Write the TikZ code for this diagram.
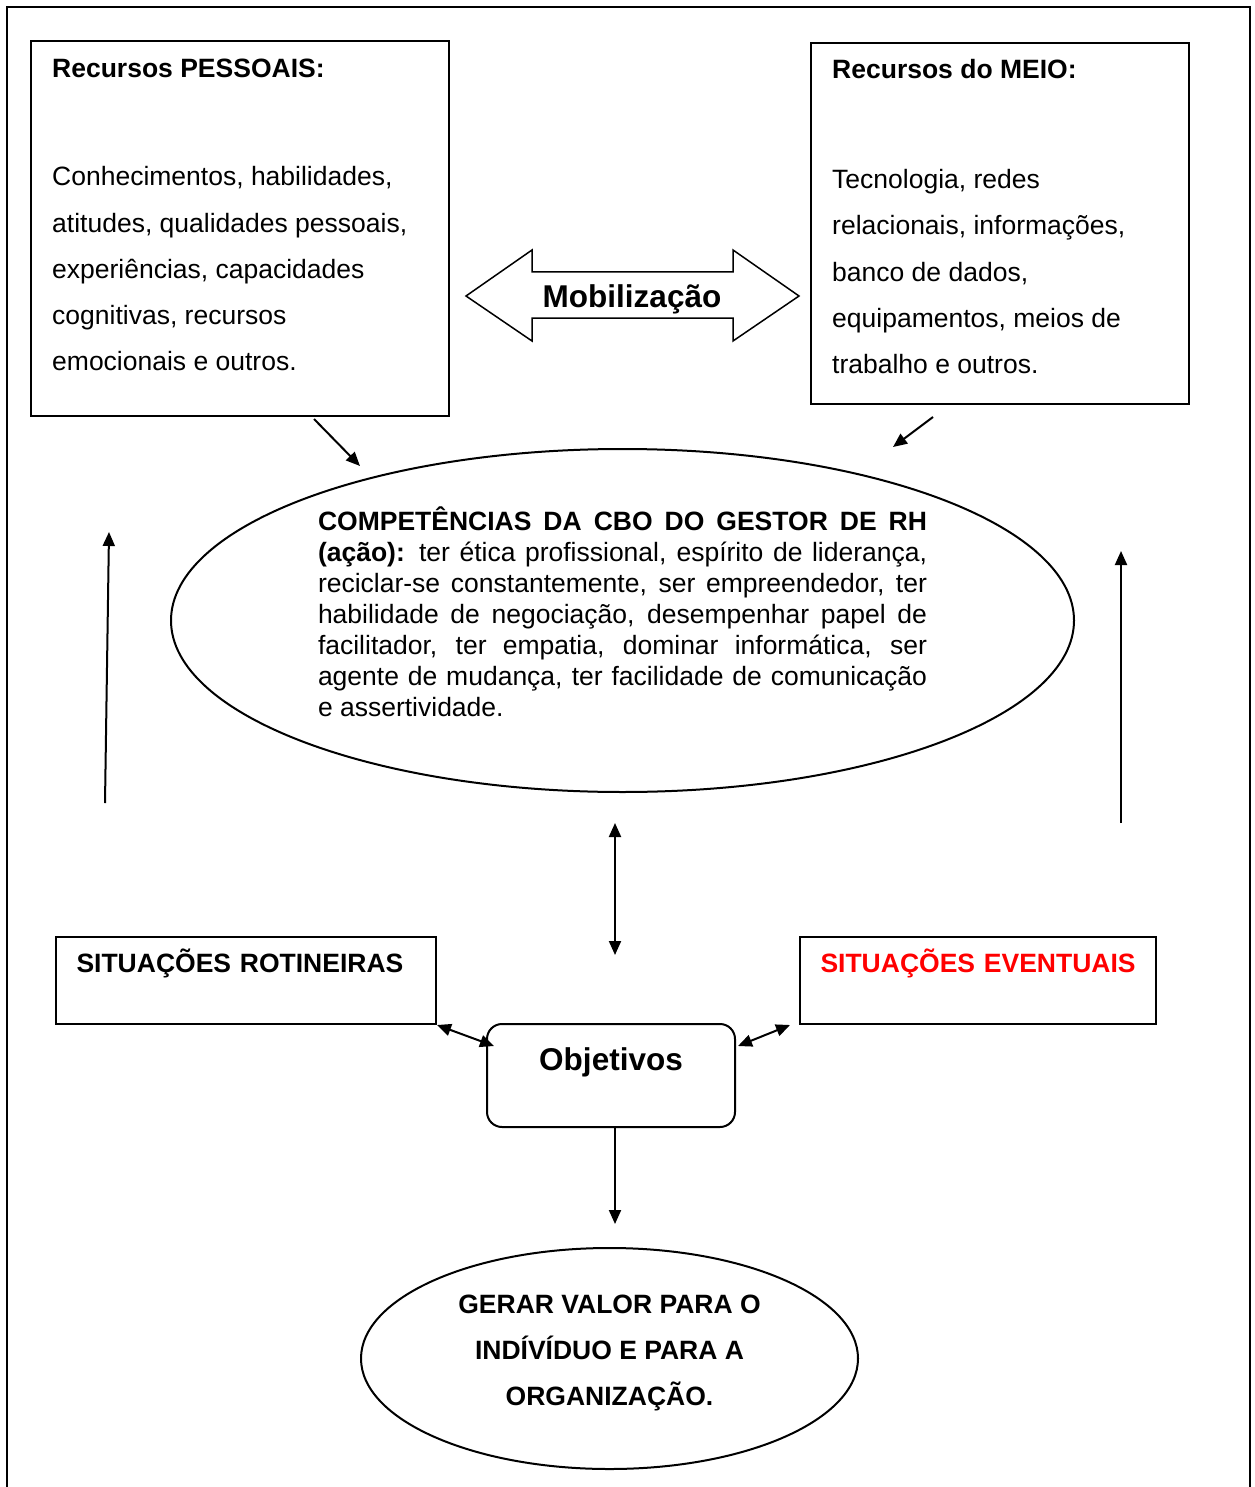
\documentclass[tikz,border=0pt]{standalone}
\usepackage{fontspec}
\setmainfont{Liberation Sans}
\usetikzlibrary{arrows.meta,calc,shapes.geometric}
\setlength{\parindent}{0pt}
\definecolor{evtred}{RGB}{255,0,0}
\tikzset{
  arr/.style={line width=2pt,-{Triangle[length=14pt,width=12pt]}},
  darr/.style={line width=2pt,{Triangle[length=14pt,width=12pt]}-{Triangle[length=14pt,width=12pt]}},
  box/.style={draw,line width=2pt,inner sep=0pt},
  oval/.style={draw,ellipse,line width=2pt,inner sep=0pt},
  txt/.style={inner sep=0pt,align=left,font=\fontsize{26.5}{46.25}\selectfont},
  sit/.style={box,anchor=base west,align=left,inner xsep=20.5pt,
    text height=35.5pt,text depth=51.5pt,font=\fontsize{26.5}{31}\selectfont\bfseries},
}
\begin{document}
\begin{tikzpicture}[x=1pt,y=-1pt]
  \useasboundingbox (0,0) rectangle (1254,1487);
  % frame, open at the bottom
  \draw[line width=1.6pt] (7,1487) -- (7,7) -- (1250,7) -- (1250,1487);

  % the two kinds of resources
  \node[box,minimum width=418pt,minimum height=375pt] (pess) at (240,228.5) {};
  \node[txt,anchor=north west] (pesstxt) at (52,59) {\textbf{Recursos PESSOAIS:}\\[62pt]
    Conhecimentos, habilidades,\\ atitudes, qualidades pessoais,\\
    experiências, capacidades\\ cognitivas, recursos\\ emocionais e outros.};
  \node[box,minimum width=378pt,minimum height=361pt] (meio) at (1000,223.5) {};
  \node[txt,anchor=north west] (meiotxt) at (832,59) {\textbf{Recursos do MEIO:}\\[64pt]
    Tecnologia, redes\\ relacionais, informações,\\ banco de dados,\\
    equipamentos, meios de\\ trabalho e outros.};

  % mobilization arrow
  \draw[line width=1.5pt] (466,296) -- (532,250) -- (532,272) -- (733,272) -- (733,250)
    -- (799,296) -- (733,341) -- (733,318) -- (532,318) -- (532,341) -- cycle;
  \node[inner sep=0pt,anchor=base,font=\fontsize{31.5}{36}\selectfont\bfseries] (mob) at (632,308) {Mobilização};

  % competences
  \node[oval,minimum width=903pt,minimum height=343pt] (comp) at (622.5,620.5) {};
  \node[txt,text width=609pt,align=justify,font=\fontsize{26.5}{31}\selectfont] (comptxt) at (622.5,611.5)
    {\tolerance=10000
     \textbf{COMPETÊNCIAS DA CBO DO GESTOR DE RH}\linebreak
     \textbf{(ação):} ter ética profissional, espírito de liderança,\linebreak
     reciclar-se constantemente, ser empreendedor, ter\linebreak
     habilidade de negociação, desempenhar papel de\linebreak
     facilitador, ter empatia, dominar informática, ser\linebreak
     agente de mudança, ter facilidade de comunicação\linebreak
     e assertividade.};

  \coordinate (pesstip) at (360,466);
  \coordinate (meiotail) at (933,417);
  \coordinate (meiotip) at (893,447);
  \draw[arr] ($(pess.south)+(74,2)$) -- (pesstip);
  \draw[arr] (meiotail) -- (meiotip);

  % side arrows
  \coordinate (ltail) at (105,803);
  \coordinate (lhead) at (109,532);
  \coordinate (rtail) at (1121,823);
  \coordinate (rhead) at (1121,551);
  \draw[arr] (ltail) -- (lhead);
  \draw[arr] (rtail) -- (rhead);
  \coordinate (mtop) at (615,823);
  \coordinate (mbot) at (615,955);
  \draw[darr] (mtop) -- (mbot);

  % situations and objectives
  \node[sit,text width=339pt] (rot) at (55,972.5) {\mbox{SITUAÇÕES ROTINEIRAS}};
  \node[sit,text width=315pt,text=evtred] (evt) at (799,972.5) {\mbox{SITUAÇÕES EVENTUAIS}};
  \node[box,rounded corners=15pt,minimum width=248pt,text height=46pt,text depth=57pt,
    anchor=base,font=\fontsize{31.5}{36}\selectfont\bfseries] (obj) at (611,1070) {Objetivos};
  \draw[darr] (rot.south east) -- ($(obj.north west)+(8,23)$);
  \draw[darr] ($(obj.north east)+(2,23)$) -- ($(evt.south west)+(-9,0)$);

  % value
  \coordinate (gertop) at (615,1224);
  \draw[arr] ($(obj.south)+(4,0)$) -- (gertop);
  \node[oval,minimum width=497pt,minimum height=221pt] (ger) at (609.5,1358.5) {};
  \node[txt,align=center,font=\fontsize{26.5}{46}\selectfont\bfseries] (gertxt) at (609.5,1352.5)
    {GERAR VALOR PARA O\\ INDÍVÍDUO E PARA A\\ ORGANIZAÇÃO.};
\end{tikzpicture}
\end{document}
